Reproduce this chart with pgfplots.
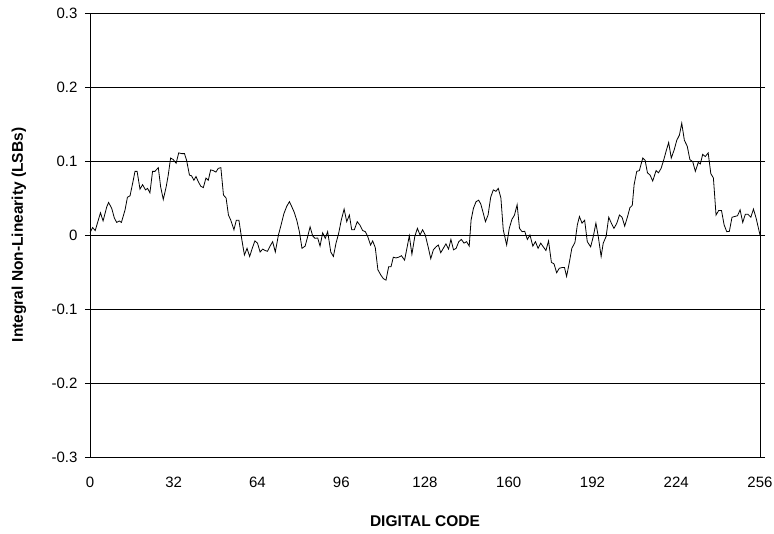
\documentclass[border=0pt]{standalone}
\usepackage{pgfplots}
\pgfplotsset{compat=1.18}
\usepackage{fontspec}
\setmainfont{Liberation Sans}

\pgfplotstableread{
x y
0 0.003
1 0.010
2 0.006
4 0.030
5 0.019
6.4 0.038
7.1 0.044
8.3 0.036
9.3 0.023
10.2 0.017
11.2 0.019
12 0.017
13.4 0.034
14.3 0.051
15.3 0.053
16.3 0.070
17.2 0.086
18 0.086
19.1 0.062
20.1 0.068
21.2 0.061
22 0.063
22.9 0.057
23.9 0.086
24.8 0.086
26.1 0.091
27 0.065
28 0.048
29.1 0.065
29.9 0.081
30.8 0.104
31.8 0.102
32.9 0.097
33.9 0.111
35 0.110
36.1 0.110
36.9 0.101
38 0.081
38.8 0.080
39.7 0.074
40.5 0.079
41.4 0.072
42.3 0.066
43.3 0.064
44.3 0.077
45.2 0.074
46.1 0.088
47.1 0.087
48.1 0.085
49 0.090
50 0.091
51 0.054
52 0.050
52.9 0.027
53.8 0.020
55 0.007
55.9 0.020
56.9 0.020
58 -0.006
59 -0.027
60 -0.018
61 -0.029
62 -0.018
63 -0.008
64 -0.011
65 -0.023
66 -0.019
66.9 -0.021
67.8 -0.022
68.8 -0.015
69.8 -0.009
70.8 -0.023
72 0.000
73 0.0135
74.1 0.029
75.2 0.039
76.2 0.045
77 0.039
78 0.031
79 0.020
80 0.0045
81 -0.018
82.2 -0.015
83 -0.0045
84.1 0.011
85.1 -0.0014
86 -0.0045
87 -0.004
87.9 -0.015
88.9 0.003
89.9 -0.0045
90.8 0.0045
92 -0.023
93 -0.029
94 -0.011
95 0.002
96 0.020
97.1 0.035
98.1 0.018
99.1 0.027
100 0.007
101 0.007
102.1 0.018
103.1 0.0135
104.2 0.006
105.2 0.0045
106.1 -0.002
107.2 -0.0135
108 -0.008
109 -0.017
110 -0.047
111.1 -0.054
112.1 -0.059
113.1 -0.061
114.1 -0.043
115 -0.043
115.9 -0.030
116.9 -0.031
117.9 -0.030
119 -0.028
120.2 -0.034
121.2 -0.016
122 -0.001
123 -0.026
124.1 -0.002
125.1 0.009
126.1 0.000
127.1 0.007
128.1 0.000
129.2 -0.016
130.2 -0.032
131.2 -0.020
132.2 -0.016
133.1 -0.0135
134 -0.024
135 -0.018
136 -0.012
137 -0.019
137.9 -0.006
138.9 -0.020
139.9 -0.018
140.9 -0.009
141.9 -0.006
142.9 -0.011
143.9 -0.009
144.9 -0.015
145.6 0.020
146.5 0.036
147.5 0.045
148.5 0.047
149.3 0.042
150.3 0.029
151.1 0.018
152.1 0.027
153.1 0.051
154.1 0.061
155.1 0.059
156 0.063
157 0.050
157.9 0.007
159.2 -0.0135
160.2 0.009
161.2 0.021
162.2 0.027
163.2 0.041
164.1 0.009
165.1 0.0045
166.1 0.005
167.1 -0.006
168.1 0.000
169.2 -0.015
170.2 -0.009
171.2 -0.018
172.2 -0.011
173.2 -0.016
174.2 -0.021
175.2 -0.008
176.3 -0.037
177.3 -0.039
178.3 -0.051
179.3 -0.045
180.3 -0.044
181.3 -0.044
182.1 -0.056
183.1 -0.038
184.1 -0.018
185.3 -0.010
186.2 0.0135
187 0.025
188 0.016
189 0.020
190 -0.009
191.3 -0.016
192.3 -0.002
193.3 0.016
194.2 -0.002
195.3 -0.029
196.1 -0.011
197.2 -0.002
198.2 0.024
199.2 0.016
200.2 0.009
201.3 0.016
202.3 0.027
203.3 0.024
204.3 0.012
205.4 0.025
206.3 0.037
207.2 0.040
207.9 0.068
208.9 0.086
209.9 0.087
211.2 0.104
212.1 0.101
213 0.084
214 0.081
215 0.073
216.3 0.087
217.2 0.084
218.2 0.090
219.1 0.100
220.1 0.113
221.1 0.125
222.1 0.104
223.2 0.115
224.2 0.128
225.2 0.135
226.1 0.151
227.1 0.128
228.2 0.120
229.2 0.102
230.3 0.099
231.3 0.086
232.4 0.098
233.2 0.096
234.1 0.109
235.1 0.106
236.2 0.111
237.2 0.083
238.2 0.077
239.2 0.027
240.2 0.033
241.3 0.033
242.3 0.0135
243.3 0.0045
244.3 0.005
245.3 0.024
246.3 0.025
247.4 0.026
248.4 0.034
249.4 0.017
250.4 0.028
251.4 0.028
252.5 0.024
253.5 0.035
254.5 0.023
256 0.000
}\inl

\begin{document}
\begin{tikzpicture}
\useasboundingbox (-90bp,-77bp) rectangle (684bp,457bp);
\begin{axis}[
    at={(0,0)}, anchor=south west,
    scale only axis,
    width=670bp, height=444bp,
    xmin=0, xmax=256,
    ymin=-0.3, ymax=0.3,
    xtick={0,32,...,256},
    ytick={-0.3,-0.2,...,0.3},
    yticklabel style={/pgf/number format/fixed, /pgf/number format/precision=1, xshift=-4bp},
    /pgf/number format/assume math mode=true,
    ymajorgrids,
    grid style={black, line width=0.7bp},
    axis line style={black, line width=0.8bp},
    tick align=outside,
    major tick length=5bp,
    x tick style={draw=none},
    y tick style={black, line width=0.7bp},
    tick label style={font=\fontsize{15bp}{17bp}\selectfont},
    xticklabel style={yshift=-12bp},
    xlabel={\textbf{DIGITAL CODE}},
    ylabel={\textbf{Integral Non-Linearity (LSBs)}},
    label style={font=\fontsize{15.5bp}{18bp}\selectfont},
    xlabel style={at={(axis description cs:0.5,-0.144)}, anchor=center},
    ylabel style={at={(axis description cs:-0.106,0.5)}, anchor=center},
]
\addplot[black, line width=0.8bp] table[x=x, y=y] {\inl};
\end{axis}
\end{tikzpicture}
\end{document}
